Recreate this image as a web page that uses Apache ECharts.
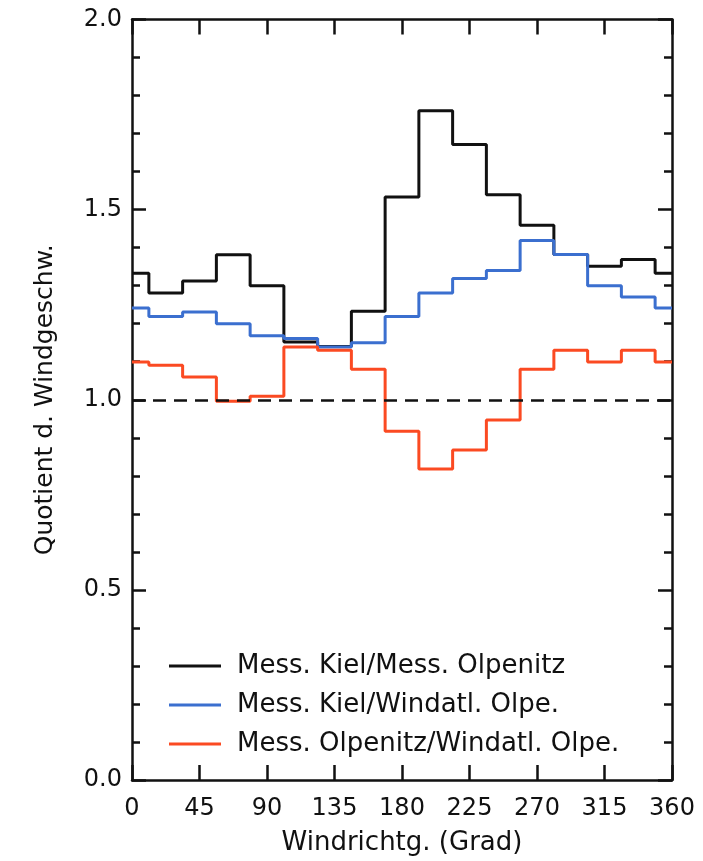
<!DOCTYPE html>
<html>
<head>
<meta charset="utf-8">
<script src="https://cdn.jsdelivr.net/npm/echarts@6/dist/echarts.min.js"></script>
<style>
  html, body { margin: 0; padding: 0; background: #fff; }
  #main { width: 703px; height: 861px; }
</style>
</head>
<body>
<div id="main"></div>
<script>
// Windrichtungen (Mitte der 22.5°-Sektoren)
var richtung = [0, 22.5, 45, 67.5, 90, 112.5, 135, 157.5, 180, 202.5, 225, 247.5, 270, 292.5, 315, 337.5, 360];
var kielOlpenitz = [1.333, 1.281, 1.312, 1.381, 1.300, 1.152, 1.140, 1.233, 1.533, 1.760, 1.671, 1.539, 1.459, 1.382, 1.351, 1.369, 1.333];
var kielWindatlas = [1.241, 1.219, 1.231, 1.200, 1.168, 1.161, 1.139, 1.150, 1.219, 1.281, 1.319, 1.340, 1.419, 1.382, 1.300, 1.270, 1.241];
var olpenitzWindatlas = [1.099, 1.091, 1.060, 0.996, 1.009, 1.139, 1.130, 1.080, 0.917, 0.818, 0.868, 0.947, 1.080, 1.130, 1.099, 1.130, 1.099];
var namen = ['Mess. Kiel/Mess. Olpenitz', 'Mess. Kiel/Windatl. Olpe.', 'Mess. Olpenitz/Windatl. Olpe.'];
var farben = ['#111111', '#3b6fcf', '#fb4a22'];

function paare(werte) {
    return richtung.map(function (r, i) { return [r, werte[i]]; });
}

var font = 'DejaVu Sans';
var linie = { color: '#111', width: 2.5 };
var chart = echarts.init(document.getElementById('main'));

var option = {
    backgroundColor: '#fff',
    animation: false,
    grid: { left: 132, right: 31, top: 19.5, bottom: 80 },
    legend: {
        orient: 'vertical',
        left: 164,
        top: 648,
        icon: 'rect',
        itemWidth: 52,
        itemHeight: 3,
        itemGap: 13,
        data: namen,
        textStyle: { fontFamily: font, fontSize: 26, lineHeight: 26, color: '#111', padding: [0, 0, 0, 11] }
    },
    xAxis: [
        {
            type: 'value', min: 0, max: 360, interval: 45,
            name: 'Windrichtg. (Grad)', nameLocation: 'middle', nameGap: 50,
            nameTextStyle: { fontFamily: font, fontSize: 26, color: '#111' },
            axisLine: { onZero: false, lineStyle: linie },
            axisTick: { inside: true, length: 15, lineStyle: linie },
            axisLabel: { fontFamily: font, fontSize: 24, color: '#111', margin: 17 },
            splitLine: { show: false }
        },
        {
            type: 'value', min: 0, max: 360, interval: 45, position: 'top',
            axisLine: { show: true, onZero: false, lineStyle: linie },
            axisTick: { inside: true, length: 15, lineStyle: linie },
            axisLabel: { show: false },
            splitLine: { show: false }
        }
    ],
    yAxis: [
        {
            type: 'value', min: 0, max: 2, interval: 0.5,
            name: 'Quotient d. Windgeschw.', nameLocation: 'middle', nameGap: 74,
            nameTextStyle: { fontFamily: font, fontSize: 25, color: '#111' },
            axisLine: { show: true, onZero: false, lineStyle: linie },
            axisTick: { inside: true, length: 14, lineStyle: linie },
            minorTick: { show: true, splitNumber: 5, length: 8, lineStyle: linie },
            axisLabel: { fontFamily: font, fontSize: 24, color: '#111', margin: 10,
                formatter: function (v) { return v.toFixed(1); } },
            splitLine: { show: false }
        },
        {
            type: 'value', min: 0, max: 2, interval: 0.5, position: 'right',
            axisLine: { show: true, onZero: false, lineStyle: linie },
            axisTick: { inside: true, length: 14, lineStyle: linie },
            minorTick: { show: true, splitNumber: 5, length: 8, lineStyle: linie },
            axisLabel: { show: false },
            splitLine: { show: false }
        }
    ],
    series: [
        {
            name: namen[0], type: 'line', step: 'middle', symbol: 'none',
            data: paare(kielOlpenitz), color: farben[0],
            lineStyle: { color: farben[0], width: 3 },
            markLine: {
                silent: true, symbol: 'none', label: { show: false },
                lineStyle: { color: '#111', width: 2.5, type: [13, 8] },
                data: [{ yAxis: 1 }]
            }
        },
        {
            name: namen[1], type: 'line', step: 'middle', symbol: 'none',
            data: paare(kielWindatlas), color: farben[1],
            lineStyle: { color: farben[1], width: 3 }
        },
        {
            name: namen[2], type: 'line', step: 'middle', symbol: 'none',
            data: paare(olpenitzWindatlas), color: farben[2],
            lineStyle: { color: farben[2], width: 3 }
        }
    ]
};

chart.setOption(option);
</script>
</body>
</html>
